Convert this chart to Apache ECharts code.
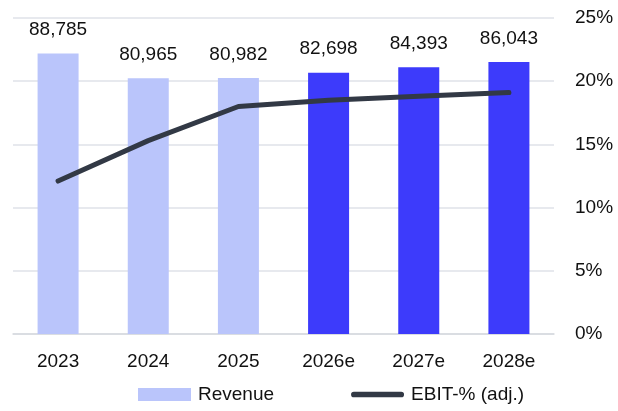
<!DOCTYPE html>
<html><head><meta charset="utf-8">
<script src="https://cdn.jsdelivr.net/npm/echarts@6/dist/echarts.min.js"></script>
<style>html,body{margin:0;padding:0;background:#fff}#c{width:618px;height:411px}</style>
</head><body><div id="c"></div>
<script>
const categories = ['2023','2024','2025','2026e','2027e','2028e'];
const revenue = [88785, 80965, 80982, 82698, 84393, 86043];
const ebitPct = [12.1, 15.3, 18.0, 18.5, 18.8, 19.1];
const barColors = ['#bac5fb','#bac5fb','#bac5fb','#3d3bfb','#3d3bfb','#3d3bfb'];
const pctTicks = [0, 5, 10, 15, 20, 25];

const FONT = 'Liberation Sans';
const chart = echarts.init(document.getElementById('c'), null, {renderer:'canvas'});
chart.setOption({
  animation: false,
  textStyle: {fontFamily: FONT},
  grid: {left: 13, right: 64, top: 18, bottom: 77},
  legend: {
    bottom: 2, left: 133, itemWidth: 53, itemHeight: 13, itemGap: 77,
    textStyle: {fontSize: 19, color: '#111', fontFamily: FONT, padding: [0, 0, 0, 2]},
    data: [
      {name: 'Revenue', icon: 'rect', itemStyle: {color: '#bac5fb'}},
      {name: 'EBIT-% (adj.)', icon: 'path://M3,0 H53 A3,3 0 0 1 53,6 H3 A3,3 0 0 1 3,0 Z',
       itemStyle: {color: '#323945'}}
    ]
  },
  xAxis: {
    type: 'category', data: categories,
    axisLine: {show: true, lineStyle: {color: '#d6d9de', width: 1.5}},
    axisTick: {show: false},
    axisLabel: {fontSize: 19, color: '#111', margin: 18, fontFamily: FONT}
  },
  yAxis: [
    {type: 'value', min: 0, max: 100000, interval: 20000, show: false},
    {type: 'value', position: 'right', min: pctTicks[0], max: pctTicks[pctTicks.length-1], interval: 5,
     axisLine: {show: false}, axisTick: {show: false},
     splitLine: {show: true, lineStyle: {color: '#dfe2e8', width: 1.5}},
     axisLabel: {fontSize: 19, color: '#111', margin: 21, fontFamily: FONT, formatter: v => v + '%'}}
  ],
  series: [
    {name: 'Revenue', type: 'bar', yAxisIndex: 0, barWidth: 41,
     data: revenue.map((v, i) => ({value: v, itemStyle: {color: barColors[i]}})),
     itemStyle: {color: '#bac5fb'},
     label: {show: true, position: 'top', distance: 14, fontSize: 19, color: '#111', fontFamily: FONT,
       formatter: p => p.value.toLocaleString('en-US')}},
    {name: 'EBIT-% (adj.)', type: 'line', yAxisIndex: 1, data: ebitPct,
     symbol: 'none', lineStyle: {color: '#323945', width: 5, cap: 'round', join: 'round'},
     itemStyle: {color: '#323945'}}
  ]
});
</script></body></html>
